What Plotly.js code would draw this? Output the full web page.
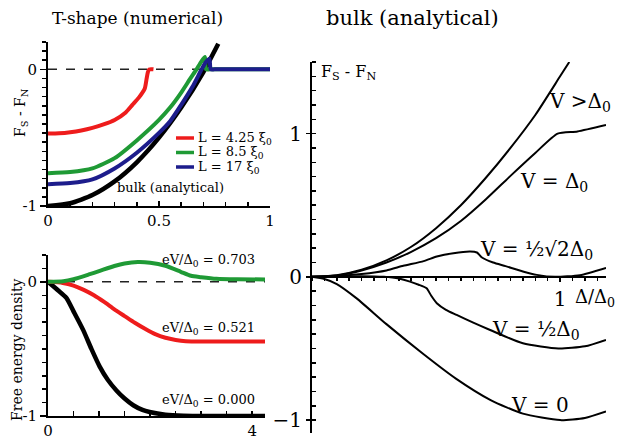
<!DOCTYPE html>
<html>
<head>
<meta charset="utf-8">
<script src="https://cdn.plot.ly/plotly-3.0.1.min.js"></script>
<style>html,body{margin:0;padding:0;background:#fff;}#chart{width:625px;height:441px;}</style>
</head>
<body>
<div id="chart"></div>
<script>
// ---------- Panel 1: T-shape (numerical), F_S - F_N vs eV/Δ0 ----------
const p1RedX   = [0, 0.05, 0.1, 0.15, 0.2, 0.25, 0.3, 0.35, 0.38, 0.41, 0.436, 0.443, 0.45, 0.456, 0.475];
const p1RedY   = [-0.47, -0.468, -0.46, -0.447, -0.428, -0.403, -0.37, -0.315, -0.26, -0.205, -0.14, -0.08, -0.02, 0.0, 0.0];
const p1GreenX = [0, 0.1, 0.2, 0.3, 0.4, 0.5, 0.55, 0.6, 0.64, 0.669, 0.69, 0.707, 0.712, 0.73, 0.8, 1.0];
const p1GreenY = [-0.76, -0.752, -0.725, -0.65, -0.52, -0.37, -0.28, -0.17, -0.07, 0.0, 0.055, 0.09, 0.0, 0.0, 0.0, 0.0];
const p1BlueX  = [0, 0.1, 0.2, 0.3, 0.4, 0.5, 0.55, 0.6, 0.65, 0.692, 0.71, 0.727, 0.733, 0.75, 0.8, 1.0];
const p1BlueY  = [-0.84, -0.832, -0.805, -0.725, -0.61, -0.465, -0.38, -0.26, -0.13, 0.0, 0.05, 0.078, 0.0, 0.0, 0.0, 0.0];
const p1BulkX  = [0, 0.1, 0.2, 0.3, 0.4, 0.5, 0.6, 0.7, 0.767];
const p1BulkY  = [-1, -0.98, -0.92, -0.82, -0.68, -0.5, -0.28, -0.02, 0.187];
const p1Names  = ['L = 4.25 ξ<sub>0</sub>', 'L = 8.5 ξ<sub>0</sub>', 'L = 17 ξ<sub>0</sub>'];

// ---------- Panel 2: free energy density vs x/ξ0 ----------
const p2GreenX = [0, 0.3, 0.5, 0.8, 1.0, 1.3, 1.5, 1.76, 2.0, 2.3, 2.6, 2.8, 3.0, 3.3, 3.7, 4.25];
const p2GreenY = [0, 0.005, 0.02, 0.055, 0.08, 0.118, 0.137, 0.148, 0.143, 0.12, 0.075, 0.045, 0.035, 0.023, 0.019, 0.018];
const p2RedX   = [0, 0.29, 0.5, 0.7, 0.9, 1.1, 1.3, 1.5, 1.7, 1.9, 2.1, 2.3, 2.5, 2.7, 3.0, 4.25];
const p2RedY   = [0, -0.008, -0.028, -0.06, -0.1, -0.15, -0.205, -0.255, -0.305, -0.35, -0.39, -0.417, -0.433, -0.442, -0.445, -0.445];
const p2BlackX = [0, 0.2, 0.36, 0.5, 0.69, 0.85, 1.01, 1.17, 1.34, 1.5, 1.67, 1.85, 1.99, 2.3, 2.65, 3.2, 4.25];
const p2BlackY = [0, -0.065, -0.12, -0.22, -0.36, -0.5, -0.63, -0.73, -0.81, -0.87, -0.92, -0.955, -0.97, -0.99, -0.998, -1.0, -1.0];
const p2Labels = ['eV/Δ<sub>0</sub> = 0.703', 'eV/Δ<sub>0</sub> = 0.521', 'eV/Δ<sub>0</sub> = 0.000'];

// ---------- Panel 3: bulk (analytical), F_S - F_N vs Δ/Δ0 ----------
const p3GtX  = [0, 0.1, 0.2, 0.3, 0.4, 0.5, 0.6, 0.7, 0.8, 0.9, 1.0, 1.037];
const p3GtY  = [0, 0.012, 0.05, 0.115, 0.21, 0.34, 0.5, 0.69, 0.9, 1.13, 1.4, 1.5];
const p3EqX  = [0, 0.1, 0.2, 0.3, 0.4, 0.5, 0.6, 0.7, 0.8, 0.9, 0.99, 1.07, 1.185];
const p3EqY  = [0, 0.01, 0.045, 0.1, 0.175, 0.27, 0.39, 0.54, 0.705, 0.865, 1.0, 1.015, 1.06];
const p3SqX  = [0, 0.1, 0.2, 0.3, 0.368, 0.45, 0.503, 0.57, 0.637, 0.665, 0.685, 0.73, 0.78, 0.85, 0.906, 0.98, 1.08, 1.185];
const p3SqY  = [0, 0.006, 0.02, 0.045, 0.077, 0.11, 0.142, 0.165, 0.177, 0.17, 0.135, 0.1, 0.075, 0.038, 0.014, 0.0, 0.012, 0.063];
const p3HalfX = [0, 0.1, 0.2, 0.29, 0.35, 0.395, 0.43, 0.462, 0.48, 0.503, 0.54, 0.583, 0.65, 0.718, 0.85, 0.993, 1.1, 1.185];
const p3HalfY = [0, 0.003, 0.005, 0.0, -0.012, -0.033, -0.055, -0.08, -0.13, -0.184, -0.23, -0.266, -0.32, -0.371, -0.464, -0.5, -0.485, -0.44];
const p3ZeroX = [0, 0.05, 0.1, 0.18, 0.3, 0.45, 0.58, 0.72, 0.85, 1.0, 1.1, 1.185];
const p3ZeroY = [0, -0.015, -0.05, -0.15, -0.33, -0.54, -0.71, -0.86, -0.955, -1.0, -0.985, -0.94];
const p3Labels = ['V &gt;Δ<sub>0</sub>', 'V = Δ<sub>0</sub>', 'V = ½√2Δ<sub>0</sub>', 'V = ½Δ<sub>0</sub>', 'V = 0'];

const FONT = "'DejaVu Serif', 'Liberation Serif', serif";
const RED = '#ee1c1c', GREEN = '#1f9a35', BLUE = '#1d1d8c';
const W = 625, H = 441;
const px = v => v / W, py = v => 1 - v / H;

function line(x, y, color, width, xa, ya) {
  return {x: x, y: y, type: 'scatter', mode: 'lines', xaxis: xa, yaxis: ya,
    line: {color: color, width: width, shape: 'spline', smoothing: 0.6},
    showlegend: false, hoverinfo: 'skip'};
}

const traces = [
  line(p1BulkX, p1BulkY, '#000', 4.5, 'x', 'y'),
  line(p1RedX, p1RedY, RED, 4, 'x', 'y'),
  line(p1GreenX, p1GreenY, GREEN, 4, 'x', 'y'),
  line(p1BlueX, p1BlueY, BLUE, 4, 'x', 'y'),
  line(p2BlackX, p2BlackY, '#000', 4.5, 'x2', 'y2'),
  line(p2RedX, p2RedY, RED, 4, 'x2', 'y2'),
  line(p2GreenX, p2GreenY, GREEN, 4, 'x2', 'y2'),
  line(p3GtX, p3GtY, '#000', 2, 'x3', 'y3'),
  line(p3EqX, p3EqY, '#000', 2, 'x3', 'y3'),
  line(p3SqX, p3SqY, '#000', 2, 'x3', 'y3'),
  line(p3HalfX, p3HalfY, '#000', 2, 'x3', 'y3'),
  line(p3ZeroX, p3ZeroY, '#000', 2, 'x3', 'y3')
];

const y3Range = [-1.09, 1.5];
const y3Dom = [py(433), py(62)];
const x3Pos = y3Dom[0] + (0 - y3Range[0]) / (y3Range[1] - y3Range[0]) * (y3Dom[1] - y3Dom[0]);

const baseAxis = {showgrid: false, zeroline: false, showline: true, linecolor: '#000', linewidth: 2,
  tickcolor: '#000', tickwidth: 1.5, fixedrange: true};
const tf16 = {family: FONT, size: 15, color: '#000'};
const tf20 = {family: FONT, size: 20, color: '#000'};

function ann(text, xref, yref, x, y, size, extra) {
  return Object.assign({text: text, xref: xref, yref: yref, x: x, y: y, showarrow: false,
    xanchor: 'center', yanchor: 'middle', font: {family: FONT, size: size, color: '#000'}}, extra || {});
}

// manual legend (panel 1)
const legendColors = [RED, GREEN, BLUE];
const legendRowsPx = [138, 152.5, 167];
const legendShapes = legendColors.map((c, i) => ({type: 'line', xref: 'paper', yref: 'paper',
  x0: px(176), x1: px(194), y0: py(legendRowsPx[i]), y1: py(legendRowsPx[i]), line: {color: c, width: 3.5}}));
const legendAnns = p1Names.map((t, i) => ann(t, 'paper', 'paper', px(196), py(legendRowsPx[i]), 13, {xanchor: 'left'}));

const layout = {
  width: W, height: H, margin: {l: 0, r: 0, t: 0, b: 0},
  paper_bgcolor: '#fff', plot_bgcolor: 'rgba(0,0,0,0)',
  font: {family: FONT, color: '#000'},
  showlegend: false,
  xaxis: Object.assign({}, baseAxis, {domain: [px(48), px(270)], range: [0, 1], anchor: 'y',
    tickmode: 'array', tickvals: [0, 0.5, 1], ticktext: ['0', '0.5', '1'], ticks: 'inside', ticklen: 5,
    minor: {tickmode: 'linear', tick0: 0, dtick: 0.1, ticks: 'inside', ticklen: 4, tickcolor: '#000'},
    tickfont: tf16}),
  yaxis: Object.assign({}, baseAxis, {domain: [py(206), py(42)], range: [-1, 0.2], anchor: 'x',
    tickmode: 'array', tickvals: [-1, 0], ticktext: ['-1', '0'], ticks: 'outside', ticklen: 6,
    minor: {tickmode: 'linear', tick0: 0, dtick: 1 / 15, ticks: 'outside', ticklen: 4, tickcolor: '#000'},
    tickfont: tf16}),
  xaxis2: Object.assign({}, baseAxis, {domain: [px(48), px(265)], range: [0, 4.25], anchor: 'y2',
    tickmode: 'array', tickvals: [0, 4], ticktext: ['0', '4'], ticks: 'inside', ticklen: 5,
    minor: {tickmode: 'linear', tick0: 0, dtick: 0.5, ticks: 'inside', ticklen: 5, tickcolor: '#000'},
    tickfont: tf16}),
  yaxis2: Object.assign({}, baseAxis, {domain: [py(416), py(255)], range: [-1, 0.2], anchor: 'x2',
    tickmode: 'array', tickvals: [-1, 0], ticktext: ['-1', '0'], ticks: 'outside', ticklen: 6,
    minor: {tickmode: 'linear', tick0: 0, dtick: 0.1, ticks: 'outside', ticklen: 4, tickcolor: '#000'},
    tickfont: tf16}),
  xaxis3: Object.assign({}, baseAxis, {domain: [px(312), px(606)], range: [0, 1.185], anchor: 'free',
    position: x3Pos, linewidth: 2,
    tickmode: 'array', tickvals: [1], ticktext: ['1'], ticks: 'outside', ticklen: 4,
    minor: {tickmode: 'linear', tick0: 0, dtick: 0.05, ticks: 'outside', ticklen: 3, tickcolor: '#000'},
    tickfont: tf20}),
  yaxis3: Object.assign({}, baseAxis, {domain: y3Dom, range: y3Range, anchor: 'x3',
    tickmode: 'array', tickvals: [-1, 0, 1], ticktext: ['\u22121', '0', '1'], ticks: 'outside', ticklen: 4,
    minor: {tickmode: 'linear', tick0: 0, dtick: 0.1, ticks: 'inside', ticklen: 4, tickcolor: '#000'},
    tickfont: tf20}),
  shapes: [
    {type: 'line', xref: 'x domain', yref: 'y', x0: 0, x1: 1, y0: 0, y1: 0,
     line: {color: '#222', width: 1.5, dash: 'dash'}, layer: 'below'},
    {type: 'line', xref: 'x2 domain', yref: 'y2', x0: 0, x1: 1, y0: 0, y1: 0,
     line: {color: '#222', width: 1.5, dash: 'dash'}, layer: 'below'}
  ].concat(legendShapes),
  annotations: [
    ann('T-shape (numerical)', 'paper', 'paper', px(137), py(18), 17),
    ann('bulk (analytical)', 'paper', 'paper', px(412), py(18), 21),
    // panel 1
    ann('F<sub>S</sub> - F<sub>N</sub>', 'paper', 'paper', px(21), py(113), 14, {textangle: -90}),
    ann('bulk (analytical)', 'x', 'y', 0.554, -0.865, 13),
    ann('eV/Δ<sub>0</sub>', 'x', 'y', 0.83, -1.09, 15),
    // panel 2
    ann('Free energy density', 'paper', 'paper', px(17), py(350), 14, {textangle: -90}),
    ann(p2Labels[0], 'x2', 'y2', 3.15, 0.157, 13),
    ann(p2Labels[1], 'x2', 'y2', 3.15, -0.351, 13),
    ann(p2Labels[2], 'x2', 'y2', 3.15, -0.888, 13),
    ann('x / ξ<sub>0</sub>', 'x2', 'y2', 3.11, -1.15, 15),
    // panel 3
    ann('F<sub>S</sub> - F<sub>N</sub>', 'x3', 'y3', 0.028, 1.43, 16, {xanchor: 'left'}),
    ann(p3Labels[0], 'x3', 'y3', 1.08, 1.224, 20),
    ann(p3Labels[1], 'x3', 'y3', 0.976, 0.664, 20),
    ann(p3Labels[2], 'x3', 'y3', 0.903, 0.189, 20),
    ann(p3Labels[3], 'x3', 'y3', 0.903, -0.37, 20),
    ann(p3Labels[4], 'x3', 'y3', 0.919, -0.895, 20),
    ann('Δ/Δ<sub>0</sub>', 'x3', 'y3', 1.14, -0.147, 18)
  ].concat(legendAnns)
};

Plotly.newPlot('chart', traces, layout, {staticPlot: true, displayModeBar: false});
</script>
</body>
</html>
